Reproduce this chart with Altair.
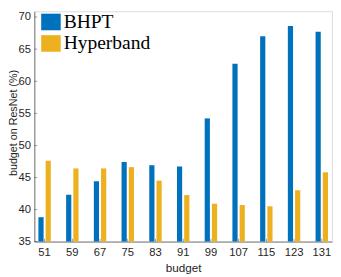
import altair as alt
import pandas as pd

budgets = ["51", "59", "67", "75", "83", "91", "99", "107", "115", "123", "131"]
bhpt = [38.8, 42.3, 44.4, 47.4, 46.9, 46.7, 54.2, 62.7, 67.0, 68.6, 67.7]
hyperband = [47.6, 46.4, 46.4, 46.6, 44.5, 42.25, 40.9, 40.7, 40.5, 43.0, 45.8]
series = ["BHPT", "Hyperband"]
colors = ["#0072BD", "#EDB120"]
y_ticks = [35, 40, 45, 50, 55, 60, 65, 70]

rows = []
for b, v1, v2 in zip(budgets, bhpt, hyperband):
    rows.append({"budget": b, "method": series[0], "value": v1})
    rows.append({"budget": b, "method": series[1], "value": v2})
df = pd.DataFrame(rows)
ticks_df = pd.DataFrame({"value": y_ticks})
cats_df = pd.DataFrame({"budget": budgets})

W, H = 305, 236
FONT = "Liberation Sans"
TXT = "#262626"

xscale = alt.Scale(domain=budgets, paddingInner=0.5, paddingOuter=0.12, round=False)
yscale = alt.Scale(domain=[35, 70.9], nice=False, zero=False)

xaxis = alt.Axis(title="budget", labelAngle=0, ticks=False, labelPadding=5,
                 labelFont=FONT, labelFontSize=11.5, labelColor=TXT,
                 titleFont=FONT, titleFontSize=12, titleFontWeight="normal",
                 titleColor=TXT, titlePadding=5,
                 domainColor=TXT, domainWidth=0.6)
yaxis = alt.Axis(title="budget on ResNet (%)", values=y_ticks, ticks=False,
                 labelOverlap=False, labelFlush=False,
                 labelPadding=4, labelFont=FONT, labelFontSize=11.5, labelColor=TXT,
                 titleFont=FONT, titleFontSize=11, titleFontWeight="normal",
                 titleColor=TXT, titleX=-18.5, titleY=114, titleAngle=-90,
                 titleAlign="center", titleBaseline="alphabetic",
                 domainColor=TXT, domainWidth=0.6, grid=False)

bars = alt.Chart(df).mark_bar(opacity=1).encode(
    x=alt.X("budget:N", scale=xscale, axis=xaxis, sort=budgets),
    xOffset=alt.XOffset("method:N", sort=series,
                        scale=alt.Scale(paddingInner=0.28, paddingOuter=0.1, round=False)),
    y=alt.Y("value:Q", scale=yscale, axis=yaxis),
    y2=alt.datum(35),
    color=alt.Color("method:N", sort=series,
                    scale=alt.Scale(domain=series, range=colors),
                    legend=alt.Legend(title=None, orient="none", legendX=7, legendY=1,
                                      symbolType="M-1,-0.85H1V0.85H-1Z", symbolSize=400,
                                      symbolStrokeWidth=0, symbolOpacity=1,
                                      labelFont="Liberation Serif", labelFontSize=20,
                                      labelColor="#000000", labelOffset=3,
                                      rowPadding=2, padding=0)),
)

xt = alt.Chart(cats_df).mark_tick(orient="vertical", size=3, thickness=0.6,
                                  color=TXT).encode(
    x=alt.X("budget:N", scale=xscale, sort=budgets, axis=xaxis),
    y=alt.value(H - 1.5),
)
yt = alt.Chart(ticks_df).mark_tick(orient="horizontal", size=3, thickness=0.6,
                                   color=TXT).encode(
    y=alt.Y("value:Q", scale=yscale, axis=yaxis),
    x=alt.value(1.5),
)

chart = alt.layer(bars, xt, yt).properties(
    width=W, height=H,
    autosize=alt.AutoSizeParams(type="none"),
    padding={"left": 27, "top": 0, "right": 1, "bottom": 33},
).configure_view(stroke=None).configure(background="white")

chart.save("out.html", embed_options={"renderer": "svg", "actions": False})
